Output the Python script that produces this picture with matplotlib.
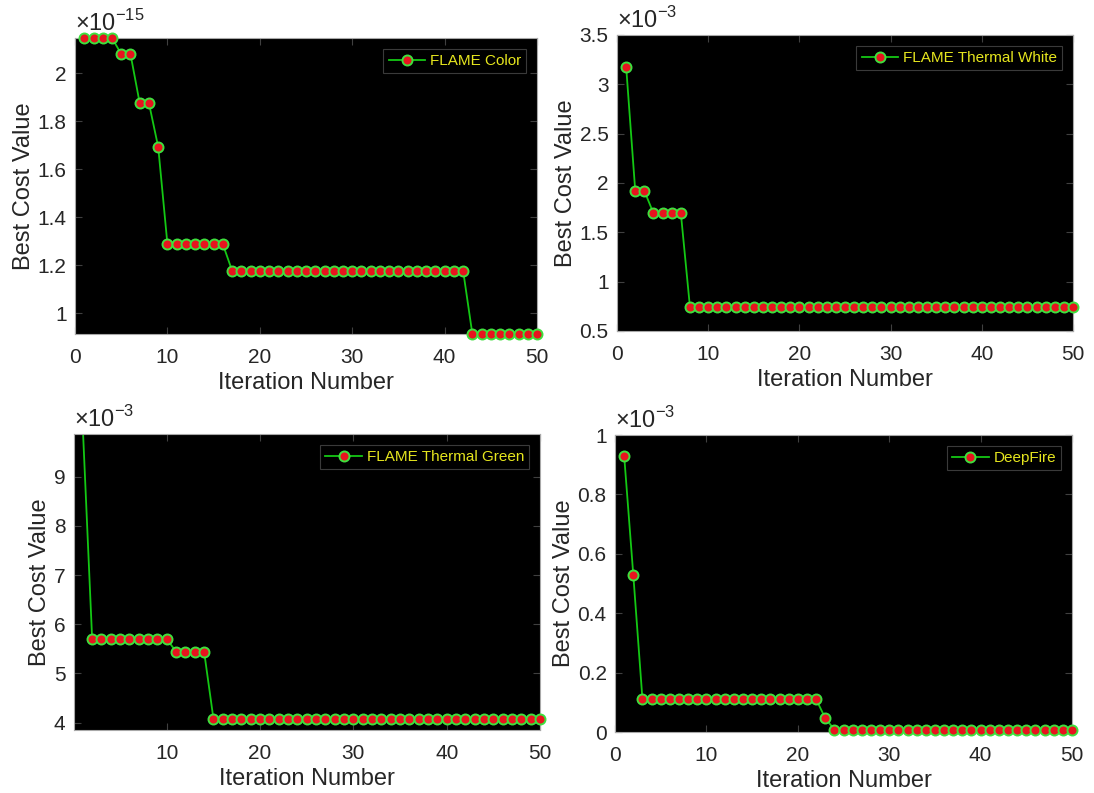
import matplotlib
matplotlib.use("Agg")
import matplotlib.pyplot as plt
from matplotlib.lines import Line2D
from matplotlib.ticker import FuncFormatter

plt.rcParams["font.family"] = ["Liberation Sans", "DejaVu Sans"]
plt.rcParams["mathtext.fontset"] = "custom"
plt.rcParams["mathtext.rm"] = "Liberation Sans"

# iterasyon numaralari
iterations = list(range(1, 51))

# FLAME Color (x1e-15)
flame_color = [
    2.147, 2.147, 2.147, 2.147, 2.080, 2.080, 1.875, 1.875, 1.693, 1.2875,
    1.2875, 1.2875, 1.2875, 1.2875, 1.2875, 1.2875, 1.1775, 1.1775, 1.1775, 1.1775,
    1.1775, 1.1775, 1.1775, 1.1775, 1.1775, 1.1775, 1.1775, 1.1775, 1.1775, 1.1775,
    1.1775, 1.1775, 1.1775, 1.1775, 1.1775, 1.1775, 1.1775, 1.1775, 1.1775, 1.1775,
    1.1775, 1.1775, 0.914, 0.914, 0.914, 0.914, 0.914, 0.914, 0.914, 0.914,
]
flame_color = [v * 1e-15 for v in flame_color]

# FLAME Thermal White (x1e-3)
thermal_white = [
    3.18, 1.919, 1.919, 1.693, 1.693, 1.693, 1.693, 0.74, 0.74, 0.74,
    0.74, 0.74, 0.74, 0.74, 0.74, 0.74, 0.74, 0.74, 0.74, 0.74,
    0.74, 0.74, 0.74, 0.74, 0.74, 0.74, 0.74, 0.74, 0.74, 0.74,
    0.74, 0.74, 0.74, 0.74, 0.74, 0.74, 0.74, 0.74, 0.74, 0.74,
    0.74, 0.74, 0.74, 0.74, 0.74, 0.74, 0.74, 0.74, 0.74, 0.74,
]
thermal_white = [v * 1e-3 for v in thermal_white]

# FLAME Thermal Green (x1e-3), ilk deger eksenin ustunde kaliyor
thermal_green = [
    10.0, 5.70, 5.70, 5.70, 5.70, 5.70, 5.70, 5.70, 5.70, 5.70,
    5.443, 5.443, 5.443, 5.443, 4.08, 4.08, 4.08, 4.08, 4.08, 4.08,
    4.08, 4.08, 4.08, 4.08, 4.08, 4.08, 4.08, 4.08, 4.08, 4.08,
    4.08, 4.08, 4.08, 4.08, 4.08, 4.08, 4.08, 4.08, 4.08, 4.08,
    4.08, 4.08, 4.08, 4.08, 4.08, 4.08, 4.08, 4.08, 4.08, 4.08,
]
thermal_green = [v * 1e-3 for v in thermal_green]

# DeepFire (x1e-3)
deepfire = [
    0.929, 0.5275, 0.110, 0.110, 0.110, 0.110, 0.110, 0.110, 0.110, 0.110,
    0.110, 0.110, 0.110, 0.110, 0.110, 0.110, 0.110, 0.110, 0.110, 0.110,
    0.110, 0.110, 0.047, 0.008, 0.008, 0.008, 0.008, 0.008, 0.008, 0.008,
    0.008, 0.008, 0.008, 0.008, 0.008, 0.008, 0.008, 0.008, 0.008, 0.008,
    0.008, 0.008, 0.008, 0.008, 0.008, 0.008, 0.008, 0.008, 0.008, 0.008,
]
deepfire = [v * 1e-3 for v in deepfire]

LINE_C = "#14c814"
EDGE_C = "#3ee03e"
FACE_C = "#e8141e"
TEXT_C = "#262626"

panels = [
    dict(y=flame_color, name="FLAME Color", exp=-15,
         pos=[0.0686, 0.5788, 0.4223, 0.3733],
         xlim=(0, 50), xticks=[0, 10, 20, 30, 40, 50],
         ylim=(0.914, 2.147), yticks=[1, 1.2, 1.4, 1.6, 1.8, 2]),
    dict(y=thermal_white, name="FLAME Thermal White", exp=-3,
         pos=[0.5640, 0.5826, 0.4168, 0.3733],
         xlim=(0, 50), xticks=[0, 10, 20, 30, 40, 50],
         ylim=(0.5, 3.5), yticks=[0.5, 1, 1.5, 2, 2.5, 3, 3.5]),
    dict(y=thermal_green, name="FLAME Thermal Green", exp=-3,
         pos=[0.0676, 0.0794, 0.4260, 0.3733],
         xlim=(0.05, 50), xticks=[10, 20, 30, 40, 50],
         ylim=(3.85, 9.87), yticks=[4, 5, 6, 7, 8, 9]),
    dict(y=deepfire, name="DeepFire", exp=-3,
         pos=[0.5622, 0.0769, 0.4177, 0.3745],
         xlim=(0, 50), xticks=[0, 10, 20, 30, 40, 50],
         ylim=(0, 1), yticks=[0, 0.2, 0.4, 0.6, 0.8, 1]),
]

fig = plt.figure(figsize=(10.94, 7.93), dpi=100)

for p in panels:
    ax = fig.add_axes(p["pos"])
    ax.set_facecolor("black")
    scale = 10.0 ** p["exp"]
    lo, hi = p["ylim"][0] * scale, p["ylim"][1] * scale

    # cizgi (kirpilmis) ve isaretler (kirpilmamis)
    ax.plot(iterations, p["y"], color=LINE_C, lw=1.3, zorder=2)
    visible = [i for i, v in enumerate(p["y"]) if v <= hi * 1.0001]
    ax.plot(iterations, p["y"], ls="none", marker="o", ms=7.2,
            mfc=FACE_C, mec=EDGE_C, mew=1.4, markevery=visible,
            clip_on=False, zorder=3)

    ax.set_xlim(*p["xlim"])
    ax.set_ylim(lo, hi)
    ax.set_xticks(p["xticks"])
    ax.set_yticks([t * scale for t in p["yticks"]])
    ax.yaxis.set_major_formatter(
        FuncFormatter(lambda v, pos, s=scale: "%g" % round(v / s, 6)))

    ax.tick_params(direction="in", length=5, width=0.8, color="#404040",
                   labelsize=15, labelcolor=TEXT_C, top=True, right=True)
    ax.tick_params(axis="x", pad=10)
    ax.tick_params(axis="y", pad=6)
    for sp in ax.spines.values():
        sp.set_color("#a8a8a8")
        sp.set_linewidth(0.8)

    ax.set_xlabel("Iteration Number", fontsize=17, color=TEXT_C, labelpad=4)
    ax.set_ylabel("Best Cost Value", fontsize=17, color=TEXT_C, labelpad=2)

    ax.text(0.0, 1.008, r"$\times$10$^{%d}$" % p["exp"], transform=ax.transAxes,
            ha="left", va="bottom", fontsize=17, color=TEXT_C)

    proxy = Line2D([], [], color=LINE_C, lw=1.3, marker="o", ms=7.2,
                   mfc=FACE_C, mec=EDGE_C, mew=1.4)
    leg = ax.legend([proxy], [p["name"]], loc="upper right", fontsize=11,
                    frameon=True, fancybox=False, facecolor="black",
                    edgecolor="#3a3a3a", framealpha=1, handlelength=2.4,
                    borderaxespad=0.7, borderpad=0.35, handletextpad=0.3)
    leg.get_frame().set_linewidth(0.8)
    for t in leg.get_texts():
        t.set_color("#e6e61e")

fig.savefig("out.png", dpi=100, facecolor="white")
plt.close(fig)
